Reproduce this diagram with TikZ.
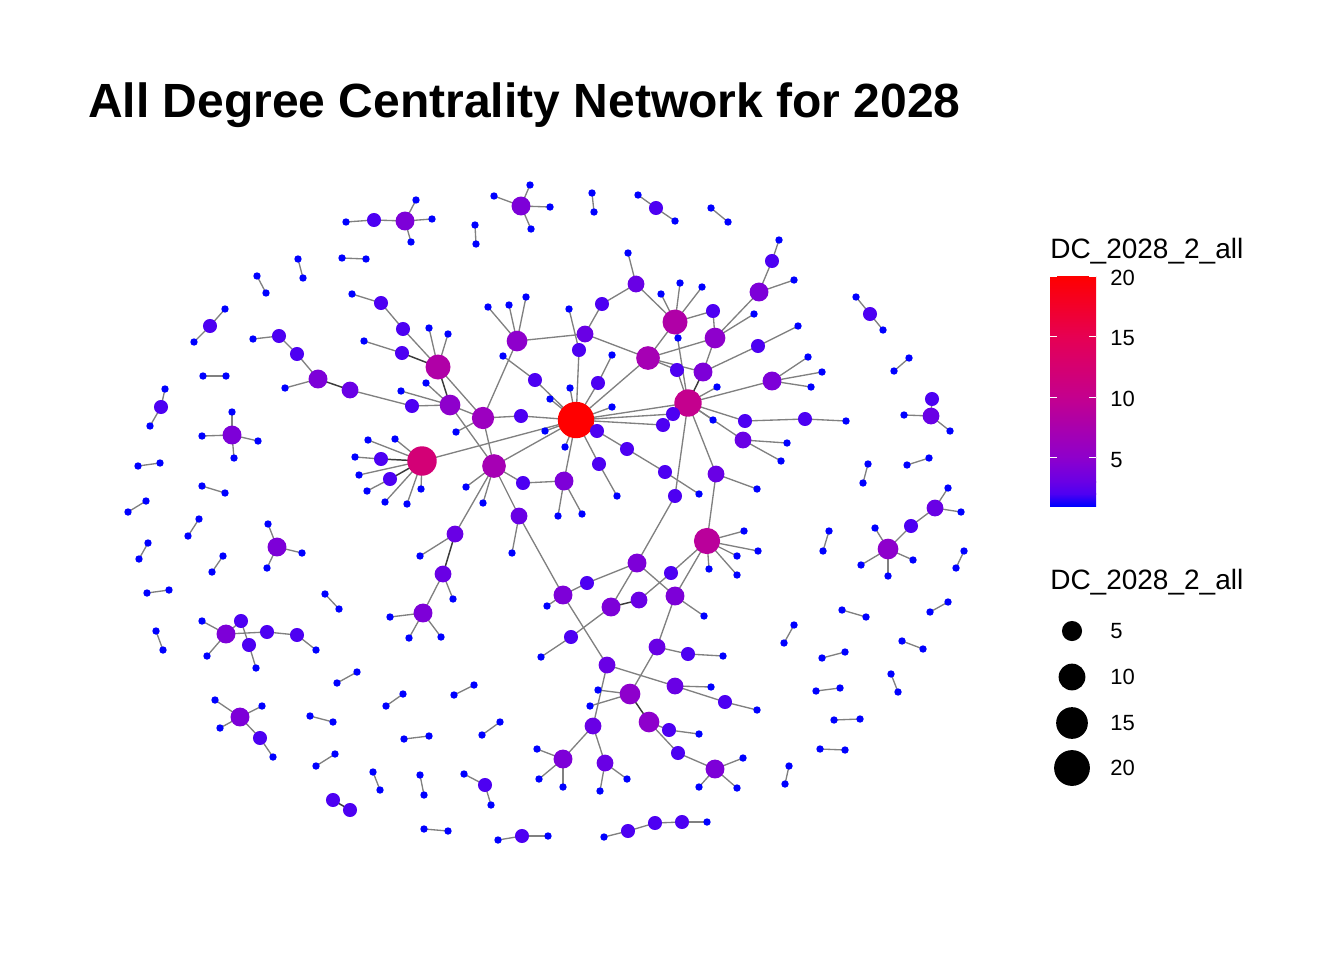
\documentclass[tikz,border=0pt]{standalone}
\usepackage{fontspec}
\setmainfont{Liberation Sans}
% degree colours, blue -> red
\definecolor{dc1}{HTML}{0000FF}
\definecolor{dc2}{HTML}{4D00F2}
\definecolor{dc3}{HTML}{6900E5}
\definecolor{dc4}{HTML}{7D00D8}
\definecolor{dc5}{HTML}{8E00CC}
\definecolor{dc6}{HTML}{9C00C0}
\definecolor{dc7}{HTML}{A600B4}
\definecolor{dc8}{HTML}{B000A7}
\definecolor{dc9}{HTML}{BA009B}
\definecolor{dc10}{HTML}{C4008E}
\definecolor{dc11}{HTML}{CC0082}
\definecolor{dc12}{HTML}{D30076}
\definecolor{dc13}{HTML}{D9006A}
\definecolor{dc14}{HTML}{E0005F}
\definecolor{dc15}{HTML}{E60053}
\definecolor{dc16}{HTML}{EC0043}
\definecolor{dc17}{HTML}{F00032}
\definecolor{dc18}{HTML}{F50022}
\definecolor{dc19}{HTML}{FA0011}
\definecolor{dc20}{HTML}{FF0000}
\definecolor{edgegray}{HTML}{808080}
\definecolor{edgedark}{HTML}{3A3A3A}
\tikzset{
  edge/.style={draw=edgegray,line width=1pt},
  dbledge/.style={draw=edgedark,line width=1.1pt},
  legtext/.style={inner sep=0pt,font=\fontsize{16.5}{19}\selectfont},
  legtitle/.style={inner sep=0pt,anchor=base west,font=\fontsize{21}{24}\selectfont}
}
% name/x/y/degree
\newcommand\netnodes{h/576/420/20,
a1/346/222/1,a2/374/220/2,a3/405/221/4,a4/416/200/1,a5/432/219/1,a6/411/242/1,
b1/298/259/1,b2/303/278/1,b3/342/258/1,b4/366/259/1,b5/257/276/1,b6/266/293/1,b7/225/309/1,b8/210/326/2,b9/194/342/1,
c0/521/206/4,c1/494/196/1,c2/530/185/1,c3/550/207/1,c4/531/229/1,c5/475/225/1,c6/476/244/1,c7/592/193/1,c8/594/212/1,c9/638/195/1,c10/656/208/2,c11/675/221/1,c12/711/208/1,c13/728/222/1,
d1/253/339/1,d2/279/336/2,d3/297/354/2,d4/318/379/4,d5/285/388/1,d6/350/390/3,d7/412/406/2,
e1/352/294/1,e2/381/303/2,e3/403/329/2,e4/438/367/8,e5/429/328/1,e6/448/334/1,e7/364/341/1,e8/402/353/2,e9/450/405/5,e10/426/383/1,e11/401/391/1,
f1/483/418/6,f2/456/432/1,f3/521/416/2,f4/494/466/7,f5/466/487/1,f6/483/503/1,f7/523/483/2,f8/564/481/4,f9/558/516/1,f10/582/514/1,f11/519/516/3,f12/512/553/1,f13/455/534/3,f14/420/556/1,f15/443/574/3,f16/453/599/1,f17/423/613/4,f18/390/617/1,f19/409/638/1,f20/441/637/1,
k0/422/461/12,k1/368/440/1,k2/395/439/1,k3/355/457/1,k4/381/459/2,k5/359/475/1,k6/367/491/1,k7/390/479/2,k8/385/502/1,k9/407/504/1,k10/421/489/1,
g1/517/341/5,g2/488/307/1,g3/509/305/1,g4/526/297/1,g5/585/334/3,g6/602/304/2,g7/636/284/3,g8/628/253/1,g9/579/350/2,g10/569/309/1,g11/648/358/7,g12/675/322/8,g13/661/294/1,g14/680/283/1,g15/702/287/1,g16/713/311/2,g17/715/338/5,g18/678/338/1,g19/677/370/2,g20/703/372/4,g21/688/403/10,g22/673/414/2,g23/663/425/2,g24/535/380/2,g25/503/356/1,g26/570/388/1,g27/550/399/1,g28/545/431/1,g29/565/447/1,g30/597/431/2,g31/598/383/2,g32/612/355/1,g33/612/407/1,g34/599/464/2,g35/617/496/1,g36/627/449/2,g37/665/472/2,g38/699/494/1,
m1/713/420/1,m2/745/421/2,m3/805/419/2,m4/846/421/1,m5/743/440/3,m6/787/443/1,m7/781/461/1,m8/716/474/3,m9/757/489/1,m10/717/387/1,
p1/779/240/1,p2/772/261/2,p3/759/292/4,p4/794/280/1,p5/754/314/1,p6/758/346/2,p7/798/326/1,p8/772/381/4,p9/808/357/1,p10/822/372/1,p11/811/387/1,
n0/707/541/9,n1/744/531/1,n2/758/551/1,n3/737/556/1,n4/709/569/1,n5/737/575/1,
q1/675/496/2,q2/637/563/4,q3/587/583/2,q4/563/595/4,q5/547/606/1,q6/611/607/4,q7/639/600/3,q8/671/573/2,q9/675/596/4,q10/704/616/1,q11/571/637/2,q12/541/657/1,
r1/607/665/3,r2/657/647/3,r3/688/654/2,r4/723/656/1,r5/675/686/3,r6/711/687/1,r7/725/702/2,r8/757/710/1,r9/630/694/5,r10/598/690/1,r11/590/706/1,r12/649/722/5,r13/669/730/2,r14/699/734/1,r15/678/753/2,r16/715/769/4,r17/743/758/1,r18/699/787/1,r19/737/788/1,r20/593/726/3,r21/563/759/4,r22/537/749/1,r23/539/779/1,r24/563/787/1,r25/605/763/3,r26/627/779/1,r27/600/791/1,
s1/165/389/1,s2/161/407/2,s3/150/426/1,s4/203/376/1,s5/226/376/1,s6/232/435/4,s7/232/412/1,s8/202/436/1,s9/258/441/1,s10/234/458/1,s11/138/466/1,s12/160/463/1,s13/202/486/1,s14/225/493/1,s15/128/512/1,s16/146/501/1,s17/199/519/1,s18/188/536/1,s19/148/543/1,s20/139/559/1,s21/223/556/1,s22/212/572/1,s23/277/547/4,s24/268/524/1,s25/302/553/1,s26/267/568/1,s27/147/593/1,s28/169/590/1,s29/325/594/1,s30/339/609/1,s31/156/631/1,s32/163/650/1,
t1/202/621/1,t2/226/634/4,t3/241/621/2,t4/267/632/2,t5/297/635/2,t6/316/650/1,t7/249/645/2,t8/256/668/1,t9/207/656/1,
u1/337/683/1,u2/357/672/1,u3/240/717/4,u4/215/700/1,u5/262/706/1,u6/220/728/1,u7/260/738/2,u8/273/757/1,u9/310/716/1,u10/333/722/1,u11/335/754/1,u12/316/766/1,u13/373/772/1,u14/380/790/1,u15/333/800/2,u16/350/810/2,u17/386/706/1,u18/403/694/1,u19/404/739/1,u20/429/736/1,u21/454/695/1,u22/474/685/1,u23/482/735/1,u24/500/722/1,u25/420/775/1,u26/424/795/1,u27/464/774/1,u28/485/785/2,u29/491/805/1,u30/424/829/1,u31/448/831/1,u32/498/840/1,u33/522/836/2,u34/548/836/1,u35/604/837/1,u36/628/831/2,u37/655/823/2,u38/682/822/2,u39/707/822/1,
w1/794/625/1,w2/784/643/1,w3/822/658/1,w4/845/652/1,w5/902/641/1,w6/923/649/1,w7/816/691/1,w8/840/688/1,w9/891/674/1,w10/898/692/1,w11/834/720/1,w12/860/719/1,w13/820/749/1,w14/845/750/1,w15/789/766/1,w16/785/784/1,w17/842/610/1,w18/866/617/1,w19/930/612/1,w20/948/602/1,w21/964/551/1,w22/956/568/1,w23/829/531/1,w24/823/551/1,w25/868/464/1,w26/863/483/1,w27/907/465/1,w28/929/458/1,
x1/888/549/5,x2/875/528/1,x3/861/565/1,x4/888/576/1,x5/913/560/1,x6/911/526/2,x7/935/508/3,x8/948/488/1,x9/961/512/1,
y1/931/416/3,y2/904/415/1,y3/950/431/1,y4/932/399/2,y5/856/297/1,y6/870/314/2,y7/883/330/1,y8/909/358/1,y9/894/371/1}

\begin{document}
\begin{tikzpicture}[x=0.75pt,y=-0.75pt]
  \useasboundingbox (0,0) rectangle (1344,960);
  \node[anchor=base west,inner sep=0pt,font=\fontsize{36}{40}\selectfont\bfseries] (title) at (88,117) {All Degree Centrality Network for 2028};
  % vertices
  \foreach \n/\x/\y/\d in \netnodes {\coordinate (\n) at (\x,\y);}
  % edges
  \foreach \a/\b in {a1/a2,a2/a3,a3/a4,a3/a5,a3/a6,b1/b2,b3/b4,b5/b6,b7/b8,b8/b9,
    c0/c1,c0/c2,c0/c3,c0/c4,c5/c6,c7/c8,c9/c10,c10/c11,c12/c13,
    d1/d2,d2/d3,d3/d4,d4/d5,d6/d7,d7/e9,
    e1/e2,e2/e3,e3/e4,e5/e4,e6/e4,e7/e8,e10/e9,e11/e9,e4/f1,
    f1/f2,f1/f3,f3/h,f1/e9,f1/f4,e9/f4,g1/f1,f4/h,f4/f5,f4/f6,f4/f7,f7/f8,f8/h,f8/f9,f8/f10,f4/f11,f11/f12,f4/f13,f13/f14,f15/f16,f15/f17,f17/f18,f17/f19,f17/f20,
    k0/k1,k0/k2,k3/k4,k0/k5,k6/k7,k0/k8,k0/k9,k0/k10,k0/h,
    g1/g2,g1/g3,g1/g4,g1/g5,g5/g6,g6/g7,g7/g8,g7/g12,g5/g11,g10/g9,g9/h,g11/h,g11/g12,g12/g13,g12/g14,g12/g15,g12/g16,g12/g18,g12/g21,g16/g17,g17/g11,g17/g20,g11/g19,g11/g20,g19/g21,g21/g22,g22/h,g23/h,g23/g21,g21/h,g25/g24,g24/h,g26/h,g27/h,g28/h,g29/h,g30/h,g31/h,g32/g31,g33/h,g34/h,g34/g35,g30/g36,g36/g37,g37/g38,
    g21/m1,g21/m2,m2/m3,m3/m4,g21/m5,m5/m6,m5/m7,g21/m8,m8/m9,g21/m10,
    p1/p2,p2/p3,p3/p4,p3/g17,p5/g17,p6/g20,p6/p7,p8/g21,p8/p9,p8/p10,p8/p11,
    m8/n0,n0/n1,n0/n2,n0/n3,n0/n4,n0/n5,n0/q8,n0/q9,g21/q1,q1/q2,q2/q3,q3/q4,q4/f11,q4/q5,q2/q6,q2/q9,q7/q8,q9/q10,q6/q11,q11/q12,
    q4/r1,q9/r2,r2/r3,r3/r4,r1/r5,r5/r6,r5/r7,r7/r8,r2/r9,r9/r10,r9/r11,r12/r13,r13/r14,r12/r15,r15/r16,r16/r17,r16/r18,r16/r19,r1/r20,r20/r21,r21/r22,r21/r23,r21/r24,r20/r25,r25/r26,r25/r27,
    s1/s2,s2/s3,s4/s5,s6/s7,s6/s8,s6/s9,s6/s10,s11/s12,s13/s14,s15/s16,s17/s18,s19/s20,s21/s22,s23/s24,s23/s25,s23/s26,s27/s28,s29/s30,s31/s32,
    t1/t2,t2/t9,t2/t3,t2/t4,t3/t7,t7/t8,t4/t5,t5/t6,
    u1/u2,u3/u4,u3/u5,u3/u6,u3/u7,u7/u8,u9/u10,u11/u12,u13/u14,u17/u18,u19/u20,u21/u22,u23/u24,u25/u26,u27/u28,u28/u29,u30/u31,u32/u33,u33/u34,u35/u36,u36/u37,u37/u38,u38/u39,
    w1/w2,w3/w4,w5/w6,w7/w8,w9/w10,w11/w12,w13/w14,w15/w16,w17/w18,w19/w20,w21/w22,w23/w24,w25/w26,w27/w28,
    x1/x2,x1/x3,x1/x4,x1/x5,x1/x6,x6/x7,x7/x8,x7/x9,
    y1/y2,y1/y3,y1/y4,y5/y6,y6/y7,y8/y9}
    \draw[edge] (\a) -- (\b);
  \foreach \a/\b in {d4/d6,e8/e4,e4/e9,k4/k0,k7/k0,f13/f15,q6/q7,r9/r12,g20/g21,u15/u16}
    \draw[dbledge] (\a) -- (\b);
  % dots, sized and coloured by degree
  \foreach \n/\x/\y/\d in \netnodes {
    \pgfmathsetmacro\r{0.75*(0.8+2.9*(1+5*sqrt((\d-1)/19)))}
    \fill[dc\d] (\n) circle (\r pt);
  }
  % colour legend
  \node[legtitle] (coltitle) at (1050,258) {DC\_2028\_2\_all};
  \shade[bottom color=dc1,top color=dc2] (1050,506) rectangle (1096,493.8);
  \shade[bottom color=dc2,top color=dc3] (1050,494) rectangle (1096,481.9);
  \shade[bottom color=dc3,top color=dc5] (1050,482) rectangle (1096,457.6);
  \shade[bottom color=dc5,top color=dc10] (1050,457.8) rectangle (1096,397.1);
  \shade[bottom color=dc10,top color=dc15] (1050,397.3) rectangle (1096,336.6);
  \shade[bottom color=dc15,top color=dc20] (1050,336.8) rectangle (1096,276);
  \foreach \v in {5,10,15,20} {
    \pgfmathsetmacro\ty{506-(\v-1)*230/19}
    \draw[white,line width=0.8pt] (1050,\ty) -- (1057,\ty) (1089,\ty) -- (1096,\ty);
    \node[legtext,anchor=west] (cb\v) at (1110,\ty+2) {\v};
  }
  % size legend
  \node[legtitle] (sizetitle) at (1050,589) {DC\_2028\_2\_all};
  \foreach \v/\yy in {5/631,10/677,15/723,20/768} {
    \pgfmathsetmacro\r{0.75*(0.5+2.9*(1+5*sqrt((\v-1)/19)))}
    \fill[black] (1072,\yy) circle (\r pt);
    \node[legtext,anchor=west] (sz\v) at (1110,\yy) {\v};
  }
\end{tikzpicture}
\end{document}
